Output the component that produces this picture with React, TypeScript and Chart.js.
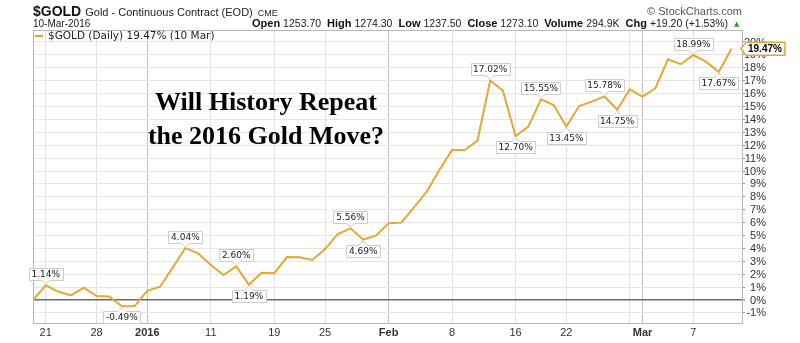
import React, { useEffect, useRef } from "react";
import { Chart, registerables } from "chart.js";

Chart.register(...registerables);

// ---------- DATA ----------
const dates = [
  "2015-12-18", "2015-12-21", "2015-12-22", "2015-12-23", "2015-12-24", "2015-12-28", "2015-12-29", "2015-12-30", "2015-12-31",
  "2016-01-04", "2016-01-05", "2016-01-06", "2016-01-07", "2016-01-08",
  "2016-01-11", "2016-01-12", "2016-01-13", "2016-01-14", "2016-01-15",
  "2016-01-19", "2016-01-20", "2016-01-21", "2016-01-22",
  "2016-01-25", "2016-01-26", "2016-01-27", "2016-01-28", "2016-01-29",
  "2016-02-01", "2016-02-02", "2016-02-03", "2016-02-04", "2016-02-05",
  "2016-02-08", "2016-02-09", "2016-02-10", "2016-02-11", "2016-02-12",
  "2016-02-16", "2016-02-17", "2016-02-18", "2016-02-19",
  "2016-02-22", "2016-02-23", "2016-02-24", "2016-02-25", "2016-02-26",
  "2016-02-29", "2016-03-01", "2016-03-02", "2016-03-03", "2016-03-04",
  "2016-03-07", "2016-03-08", "2016-03-09", "2016-03-10",
];

const gainPct = [
  0.0, 1.14, 0.64, 0.38, 0.95, 0.31, 0.28, -0.49, -0.47,
  0.72, 1.03, 2.51, 4.04, 3.62,
  2.71, 1.94, 2.6, 1.19, 2.12,
  2.07, 3.33, 3.31, 3.1,
  3.95, 5.12, 5.56, 4.69, 4.99,
  5.95, 6.0, 7.19, 8.4, 10.08,
  11.63, 11.63, 12.36, 17.02, 16.23,
  12.7, 13.44, 15.55, 15.12,
  13.45, 15.04, 15.38, 15.78, 14.75,
  16.33, 15.77, 16.41, 18.66, 18.28,
  18.99, 18.48, 17.67, 19.47,
];

const tickDates = [
  "2015-12-21", "2015-12-28", "2016-01-04", "2016-01-11", "2016-01-19", "2016-01-25",
  "2016-02-01", "2016-02-08", "2016-02-16", "2016-02-22", "2016-02-29", "2016-03-01", "2016-03-07",
];
const tickLabels = ["21", "28", "2016", "11", "19", "25", "Feb", "8", "16", "22", "", "Mar", "7"];

const calloutAboveDates = [
  "2015-12-21", "2016-01-07", "2016-01-13", "2016-01-27", "2016-02-11", "2016-02-18", "2016-02-25", "2016-03-07",
];
const calloutBelowDates = [
  "2015-12-30", "2016-01-14", "2016-01-28", "2016-02-16", "2016-02-22", "2016-02-26", "2016-03-09",
];

const symbol = "$GOLD";
const symbolName = "Gold - Continuous Contract (EOD)";
const exchange = "CME";
const quoteDate = "10-Mar-2016";
const legendDate = "10 Mar";
const quoteFields = ["Open", "High", "Low", "Close", "Volume", "Chg"];
const quoteValues = ["1253.70", "1274.30", "1237.50", "1273.10", "294.9K", "+19.20 (+1.53%)"];
const titleLines = ["Will History Repeat", "the 2016 Gold Move?"];
const copyright = "\u00A9 StockCharts.com";

// ---------- STYLE ----------
const GOLD = "rgb(229,168,52)";
const SANS = '"Liberation Sans", Arial, sans-serif';
const VERD = '"DejaVu Sans", Verdana, sans-serif';

const tickIndex = tickDates.map((d) => dates.indexOf(d));
const labelForIndex = (i: number) => {
  const k = tickIndex.indexOf(i);
  return k >= 0 ? tickLabels[k] : "";
};
const isMonthTick = (i: number) => /[A-Za-z]|^\d{4}$/.test(labelForIndex(i));
const pctLabel = (v: number) => `${v}%`;

function drawCallout(ctx: CanvasRenderingContext2D, x: number, y: number, text: string, above: boolean) {
  ctx.save();
  ctx.font = `9px ${VERD}`;
  const w = Math.round(ctx.measureText(text).width + 5);
  const h = 12;
  const gap = 5;
  const bx = Math.round(x - w / 2) + 0.5;
  const by = above ? Math.round(y - gap - h) + 0.5 : Math.round(y + gap) + 0.5;
  ctx.beginPath();
  if (above) {
    ctx.moveTo(bx, by);
    ctx.lineTo(bx + w, by);
    ctx.lineTo(bx + w, by + h);
    ctx.lineTo(x + 4, by + h);
    ctx.lineTo(x, y - 1);
    ctx.lineTo(x - 4, by + h);
    ctx.lineTo(bx, by + h);
    ctx.closePath();
  } else {
    ctx.moveTo(bx, by + h);
    ctx.lineTo(bx + w, by + h);
    ctx.lineTo(bx + w, by);
    ctx.lineTo(x + 4, by);
    ctx.lineTo(x, y + 1);
    ctx.lineTo(x - 4, by);
    ctx.lineTo(bx, by);
    ctx.closePath();
  }
  ctx.fillStyle = "#ffffff";
  ctx.fill();
  ctx.strokeStyle = "#cdcdcd";
  ctx.lineWidth = 1;
  ctx.stroke();
  ctx.fillStyle = "#222";
  ctx.textAlign = "center";
  ctx.textBaseline = "middle";
  ctx.fillText(text, x, by + h / 2 + 0.5);
  ctx.restore();
}

const overlayPlugin = {
  id: "overlay",
  beforeDatasetsDraw(chart: any) {
    const ctx: CanvasRenderingContext2D = chart.ctx;
    const a = chart.chartArea;
    ctx.save();
    ctx.strokeStyle = "#b8b8b8";
    ctx.lineWidth = 1;
    ctx.strokeRect(Math.round(a.left) + 0.5, Math.round(a.top) + 0.5, Math.round(a.right - a.left), Math.round(a.bottom - a.top));
    // big title
    ctx.fillStyle = "#000";
    ctx.font = `bold 26px "Liberation Serif", "Times New Roman", serif`;
    ctx.textAlign = "center";
    ctx.textBaseline = "alphabetic";
    ctx.fillText(titleLines[0], 266, 110);
    ctx.fillText(titleLines[1], 266, 144);

    // right-axis labels, right-aligned
    const ys = chart.scales.y;
    ctx.font = `11px ${SANS}`;
    ctx.fillStyle = "#333";
    ctx.textAlign = "right";
    ctx.textBaseline = "middle";
    ys.ticks.forEach((t: any) => {
      ctx.fillText(pctLabel(t.value), a.right + 24, ys.getPixelForValue(t.value) + 0.5);
    });
    ctx.restore();
  },
  afterDatasetsDraw(chart: any) {
    const ctx: CanvasRenderingContext2D = chart.ctx;
    const meta = chart.getDatasetMeta(0);
    const a = chart.chartArea;
    calloutAboveDates.forEach((d) => {
      const i = dates.indexOf(d);
      const p = meta.data[i];
      drawCallout(ctx, p.x, p.y, gainPct[i].toFixed(2) + "%", true);
    });
    calloutBelowDates.forEach((d) => {
      const i = dates.indexOf(d);
      const p = meta.data[i];
      drawCallout(ctx, p.x, p.y, gainPct[i].toFixed(2) + "%", false);
    });

    const last = gainPct[gainPct.length - 1];
    // legend
    ctx.save();
    ctx.strokeStyle = GOLD;
    ctx.lineWidth = 2;
    ctx.beginPath();
    ctx.moveTo(a.left + 2, a.top + 6);
    ctx.lineTo(a.left + 10, a.top + 6);
    ctx.stroke();
    ctx.fillStyle = "#222";
    ctx.font = `10.5px ${VERD}`;
    ctx.textBaseline = "middle";
    ctx.textAlign = "left";
    ctx.fillText(`${symbol} (Daily) ${last.toFixed(2)}% (${legendDate})`, a.left + 15, a.top + 6.5);

    // end-value tag on the axis
    const yPix = chart.scales.y.getPixelForValue(last);
    ctx.font = `bold 10px ${SANS}`;
    const tw = ctx.measureText(last.toFixed(2) + "%").width;
    const x0 = a.right - 1;
    const bx = x0 + 5;
    const bw = tw + 5;
    ctx.beginPath();
    ctx.moveTo(x0, yPix);
    ctx.lineTo(bx, yPix - 6.5);
    ctx.lineTo(bx + bw, yPix - 6.5);
    ctx.lineTo(bx + bw, yPix + 6.5);
    ctx.lineTo(bx, yPix + 6.5);
    ctx.closePath();
    ctx.fillStyle = "#fff";
    ctx.fill();
    ctx.strokeStyle = GOLD;
    ctx.lineWidth = 1.5;
    ctx.stroke();
    ctx.fillStyle = "#000";
    ctx.textAlign = "left";
    ctx.fillText(last.toFixed(2) + "%", bx + 2, yPix + 0.5);
    ctx.restore();
  },
  afterDraw(chart: any) {
    const ctx: CanvasRenderingContext2D = chart.ctx;
    const a = chart.chartArea;
    ctx.save();
    ctx.textBaseline = "alphabetic";
    ctx.textAlign = "left";
    ctx.fillStyle = "#111";
    ctx.font = `bold 14px ${SANS}`;
    ctx.fillText(symbol, a.left, 16);
    let x = a.left + ctx.measureText(symbol).width + 4;
    ctx.font = `11px ${SANS}`;
    ctx.fillStyle = "#222";
    ctx.fillText(symbolName, x, 16);
    x += ctx.measureText(symbolName).width + 5;
    ctx.font = `9px ${SANS}`;
    ctx.fillText(exchange, x, 16);

    ctx.font = `10px ${SANS}`;
    ctx.fillText(quoteDate, a.left, 27);

    // quote line
    let qx = 252;
    quoteFields.forEach((f, k) => {
      ctx.font = `bold 11px ${SANS}`;
      ctx.fillStyle = "#111";
      ctx.fillText(f, qx, 27);
      qx += ctx.measureText(f).width + 3;
      ctx.font = `10.5px ${SANS}`;
      ctx.fillStyle = "#222";
      ctx.fillText(quoteValues[k], qx, 27);
      qx += ctx.measureText(quoteValues[k]).width + 6;
    });
    ctx.font = `7px ${VERD}`;
    ctx.fillStyle = "#2e9e3a";
    ctx.fillText("\u25B2", qx, 26);

    ctx.font = `11px ${SANS}`;
    ctx.fillStyle = "#555";
    ctx.textAlign = "right";
    ctx.fillText(copyright, a.right, 15);
    ctx.restore();
  },
};

export default function App() {
  const ref = useRef<HTMLCanvasElement | null>(null);

  useEffect(() => {
    if (!ref.current) return;
    const chart = new Chart(ref.current, {
      type: "line",
      data: {
        datasets: [
          {
            label: symbol,
            data: gainPct.map((v, i) => ({ x: i, y: v })),
            borderColor: GOLD,
            borderWidth: 2,
            pointRadius: 0,
            tension: 0,
            fill: false,
          },
        ],
      },
      options: {
        responsive: false,
        animation: false,
        events: [],
        layout: { padding: { left: 33, top: 30, right: 0, bottom: 0 } },
        plugins: {
          legend: { display: false },
          tooltip: { enabled: false },
          title: { display: false },
        },
        scales: {
          x: {
            type: "linear",
            bounds: "data",
            min: 0,
            max: dates.length - 1 + 0.83,
            afterBuildTicks: (scale: any) => {
              scale.ticks = tickIndex.map((v) => ({ value: v }));
            },
            afterFit: (scale: any) => {
              scale.height = 20;
            },
            border: { display: false },
            grid: {
              drawTicks: false,
              color: (c: any) => (c.tick && isMonthTick(c.tick.value) ? "#c4c4c4" : "#e2e2e2"),
              lineWidth: 1,
            },
            ticks: {
              autoSkip: false,
              maxRotation: 0,
              padding: 3,
              color: "#333",
              font: (c: any) => ({
                family: SANS,
                size: 11,
                weight: c.tick && isMonthTick(c.tick.value) ? "bold" : "normal",
              }),
              callback: (v: any) => labelForIndex(Number(v)),
            },
          },
          y: {
            type: "linear",
            position: "right",
            bounds: "data",
            min: -1.78,
            max: 20.93,
            afterBuildTicks: (scale: any) => {
              const t: any[] = [];
              for (let v = Math.ceil(scale.min); v <= Math.floor(scale.max); v++) t.push({ value: v });
              scale.ticks = t;
            },
            afterFit: (scale: any) => {
              scale.width = 58;
            },
            border: { display: false },
            grid: {
              color: (c: any) => (c.tick && c.tick.value === 0 ? "#6a6a6a" : "#e6e6e6"),
              lineWidth: (c: any) => (c.tick && c.tick.value === 0 ? 1.5 : 1),
              tickColor: "#999",
              tickLength: 3,
            },
            ticks: {
              display: false,
              autoSkip: false,
              font: { family: SANS, size: 11 },
              callback: (v: any) => pctLabel(Number(v)),
            },
          },
        },
      },
      plugins: [overlayPlugin],
    } as any);
    return () => chart.destroy();
  }, []);

  return (
    <div style={{ position: "fixed", left: 0, top: 0, width: 800, height: 343, background: "#fff" }}>
      <canvas ref={ref} width={800} height={343} style={{ display: "block", width: 800, height: 343 }} />
    </div>
  );
}
